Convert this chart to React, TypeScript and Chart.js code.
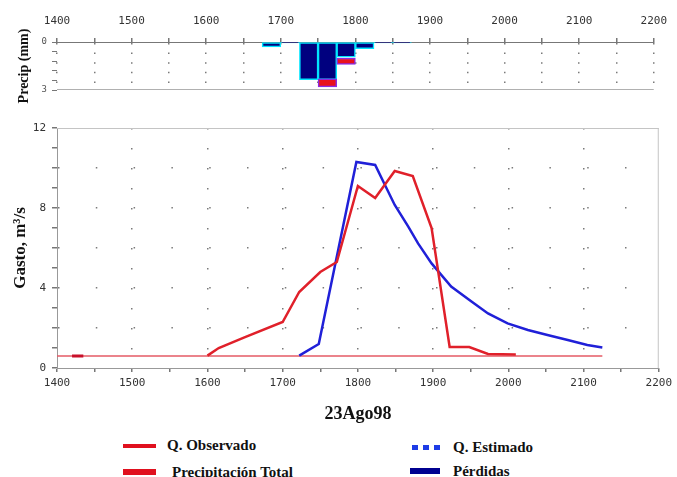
import React, { useEffect, useRef } from 'react';
import { Chart, registerables } from 'chart.js';

Chart.register(...registerables);

// ---------- Hydrograph (time hhmm, flow m3/s) ----------
const obsTime = [1600, 1615, 1650, 1700, 1722, 1750, 1772, 1800, 1823, 1849, 1873, 1898, 1922, 1948, 1973, 2010];
const obsFlow = [0.62, 1.0, 1.54, 2.3, 3.8, 4.8, 5.3, 9.1, 8.5, 9.85, 9.6, 7.0, 1.05, 1.05, 0.7, 0.68];
const estTime = [1722, 1748, 1798, 1823, 1836, 1849, 1867, 1880, 1898, 1924, 1951, 1973, 1999, 2026, 2052, 2079, 2105, 2125];
const estFlow = [0.62, 1.2, 10.3, 10.15, 9.15, 8.15, 7.07, 6.23, 5.23, 4.07, 3.32, 2.73, 2.23, 1.9, 1.65, 1.4, 1.15, 1.03];
const baseTime = [1400, 2125];
const baseFlow = [0.6, 0.6];
const markTime = [1420, 1435];
const markFlow = [0.6, 0.6];

// ---------- Hyetograph (25-min blocks, mm) ----------
const blockLength = 25;
const blockStart = [1675, 1700, 1725, 1750, 1775, 1800, 1825, 1850];
const lossDepth = [0.3, 0.05, 2.35, 2.35, 0.95, 0.42, 0.05, 0.05];
const excessStart = [1750, 1775];
const excessFrom = [2.3, 1.0];
const excessTo = [2.8, 1.4];

// ---------- Tick labels ----------
const xTickLabels = [1400, 1500, 1600, 1700, 1800, 1900, 2000, 2100, 2200];
const yTickLabels = [0, 4, 8, 12];
const precipTicks = [0, 0.6, 1.2, 1.8, 2.4, 3];
const precipTickLabels = [0, 3];

const serif = "'Liberation Serif', 'Times New Roman', serif";
const mono = "'DejaVu Sans Mono', monospace";

const framePlugin = {
  id: 'frame',
  beforeDatasetsDraw(chart: any, _args: any, opts: any) {
    const { ctx, chartArea: a } = chart;
    ctx.save();
    ctx.strokeStyle = opts.color || '#c8c8c8';
    ctx.lineWidth = 1;
    ctx.beginPath();
    const sides: string[] = opts.sides || [];
    if (sides.includes('top')) { ctx.moveTo(a.left, a.top + 0.5); ctx.lineTo(a.right, a.top + 0.5); }
    if (sides.includes('bottom')) { ctx.moveTo(a.left, a.bottom - 0.5); ctx.lineTo(a.right, a.bottom - 0.5); }
    if (sides.includes('right')) { ctx.moveTo(a.right - 0.5, a.top); ctx.lineTo(a.right - 0.5, a.bottom); }
    ctx.stroke();
    ctx.restore();
  },
};

function topConfig(): any {
  return {
    type: 'bar',
    data: {
      datasets: [
        {
          label: 'Precipitación Total',
          data: excessStart.map((s, i) => ({ x: s + blockLength / 2, y: [excessFrom[i], excessTo[i]] })),
          backgroundColor: '#E8101C',
          borderColor: '#8A2BE2',
          borderWidth: 1.5,
          borderSkipped: false,
          grouped: false,
          barPercentage: 1,
          categoryPercentage: 1,
        },
        {
          label: 'Pérdidas',
          data: blockStart.map((s, i) => ({ x: s + blockLength / 2, y: [0, lossDepth[i]] })),
          backgroundColor: '#00007F',
          borderColor: '#00E5FF',
          borderWidth: 1.5,
          borderSkipped: false,
          grouped: false,
          barPercentage: 1,
          categoryPercentage: 1,
        },
      ],
    },
    options: {
      responsive: false,
      animation: false,
      devicePixelRatio: 1,
      layout: { padding: { left: 0, right: 15, top: 0, bottom: 20 } },
      plugins: { legend: { display: false }, tooltip: { enabled: false }, frame: { sides: ['bottom'], color: '#b0b0b0' } },
      scales: {
        x: {
          type: 'linear',
          position: 'top',
          min: 1400,
          max: 2200,
          offset: false,
          ticks: {
            stepSize: 50,
            autoSkip: false,
            maxRotation: 0,
            padding: 10,
            font: { family: mono, size: 11 },
            color: '#333',
            callback: (v: number) => (xTickLabels.includes(v) ? String(v) : ''),
          },
          grid: { offset: false, color: '#7a7a7a', lineWidth: 1.5, tickColor: '#777', tickLength: 4 },
          border: { color: '#777', dash: [1.5, 8.1] },
          afterFit: (s: any) => { s.height = 42; },
        },
        y: {
          reverse: true,
          min: 0,
          max: 3,
          afterBuildTicks: (s: any) => { s.ticks = precipTicks.map((v) => ({ value: v })); },
          ticks: {
            autoSkip: false,
            padding: 5,
            font: { family: mono, size: 9 },
            color: '#555',
            callback: (v: number) => (precipTickLabels.some((t) => Math.abs(t - v) < 1e-6) ? String(v) : ''),
          },
          grid: { drawOnChartArea: false, tickColor: '#777', tickLength: 5 },
          border: { display: false },
          title: {
            display: true,
            text: 'Precip (mm)',
            color: '#111',
            font: { family: serif, size: 14, weight: 'bold' },
            padding: { top: 16, bottom: 0 },
          },
          afterFit: (s: any) => { s.width = 57; },
        },
      },
    },
    plugins: [framePlugin],
  };
}

function mainConfig(): any {
  const pts = (xs: number[], ys: number[]) => xs.map((x, i) => ({ x, y: ys[i] }));
  return {
    type: 'line',
    data: {
      datasets: [
        { label: 'Q. Observado', data: pts(obsTime, obsFlow), borderColor: '#E0202A', borderWidth: 2.5, pointRadius: 0, tension: 0 },
        { label: 'Q. Estimado', data: pts(estTime, estFlow), borderColor: '#2020D8', borderWidth: 2.5, pointRadius: 0, tension: 0 },
        { label: 'mark', data: pts(markTime, markFlow), borderColor: '#C8102A', borderWidth: 3, pointRadius: 0 },
        { label: 'base', data: pts(baseTime, baseFlow), borderColor: '#E45A64', borderWidth: 1.5, pointRadius: 0 },
      ],
    },
    options: {
      responsive: false,
      animation: false,
      devicePixelRatio: 1,
      layout: { padding: { left: 0, right: 15, top: 28, bottom: 0 } },
      plugins: { legend: { display: false }, tooltip: { enabled: false }, frame: { sides: ['top', 'right'], color: '#c4c4c4' } },
      scales: {
        x: {
          type: 'linear',
          min: 1400,
          max: 2200,
          ticks: {
            stepSize: 50,
            autoSkip: false,
            maxRotation: 0,
            padding: 5,
            font: { family: mono, size: 11 },
            color: '#333',
            callback: (v: number) => (xTickLabels.includes(v) ? String(v) : ''),
          },
          grid: {
            color: (c: any) => {
              const v = c.tick ? c.tick.value : 0;
              return v % 100 === 0 && v > 1400 && v < 2200 ? '#7a7a7a' : 'transparent';
            },
            lineWidth: 1.5,
            tickColor: '#777',
            tickLength: 4,
          },
          border: { color: '#999', dash: [1.5, 18.5] },
          title: {
            display: true,
            text: '23Ago98',
            color: '#111',
            font: { family: serif, size: 18, weight: 'bold' },
            padding: { top: 0, bottom: 0 },
          },
          afterFit: (s: any) => { s.height = 57; },
        },
        y: {
          min: 0,
          max: 12,
          ticks: {
            stepSize: 1,
            padding: 6,
            font: { family: mono, size: 11 },
            color: '#333',
            callback: (v: number) => (yTickLabels.includes(v) ? String(v) : ''),
          },
          grid: {
            color: (c: any) => {
              const v = c.tick ? c.tick.value : 0;
              return v % 2 === 0 && v > 0 && v < 12 ? '#7a7a7a' : 'transparent';
            },
            lineWidth: 1.5,
            tickColor: '#777',
            tickLength: 5,
          },
          border: { color: '#999', dash: [1.5, 36.3] },
          title: {
            display: true,
            text: 'Gasto, m³/s',
            color: '#111',
            font: { family: serif, size: 17, weight: 'bold' },
            padding: { top: 10, bottom: 0 },
          },
          afterFit: (s: any) => { s.width = 57; },
        },
      },
    },
    plugins: [framePlugin],
  };
}

const legendText: React.CSSProperties = {
  position: 'absolute',
  fontFamily: serif,
  fontWeight: 'bold',
  fontSize: 15,
  lineHeight: '14px',
  color: '#111',
  whiteSpace: 'nowrap',
};

export default function App() {
  const topRef = useRef<HTMLCanvasElement>(null);
  const mainRef = useRef<HTMLCanvasElement>(null);

  useEffect(() => {
    const top = new Chart(topRef.current as HTMLCanvasElement, topConfig());
    const main = new Chart(mainRef.current as HTMLCanvasElement, mainConfig());
    return () => {
      top.destroy();
      main.destroy();
    };
  }, []);

  return (
    <div style={{ position: 'absolute', left: 0, top: 0, width: 677, height: 477, background: '#fff', overflow: 'hidden' }}>
      <canvas ref={topRef} width={677} height={110} style={{ position: 'absolute', left: 0, top: 0, width: 677, height: 110 }} />
      <canvas ref={mainRef} width={677} height={325} style={{ position: 'absolute', left: 0, top: 100, width: 677, height: 325 }} />

      <div style={{ position: 'absolute', left: 123, top: 444, width: 33, height: 4, background: '#E0101E' }} />
      <div style={{ ...legendText, left: 167, top: 438 }}>Q. Observado</div>

      <div style={{ position: 'absolute', left: 123, top: 469, width: 33, height: 6, background: '#E0101E' }} />
      <div style={{ ...legendText, left: 172, top: 465 }}>Precipitación Total</div>

      <div style={{ position: 'absolute', left: 412, top: 445, width: 6, height: 5, background: '#1E3CE6' }} />
      <div style={{ position: 'absolute', left: 423, top: 445, width: 6, height: 5, background: '#1E3CE6' }} />
      <div style={{ position: 'absolute', left: 434, top: 445, width: 6, height: 5, background: '#1E3CE6' }} />
      <div style={{ ...legendText, left: 453, top: 440 }}>Q. Estimado</div>

      <div style={{ position: 'absolute', left: 410, top: 468, width: 30, height: 6, background: '#000090' }} />
      <div style={{ ...legendText, left: 453, top: 464 }}>Pérdidas</div>
    </div>
  );
}
